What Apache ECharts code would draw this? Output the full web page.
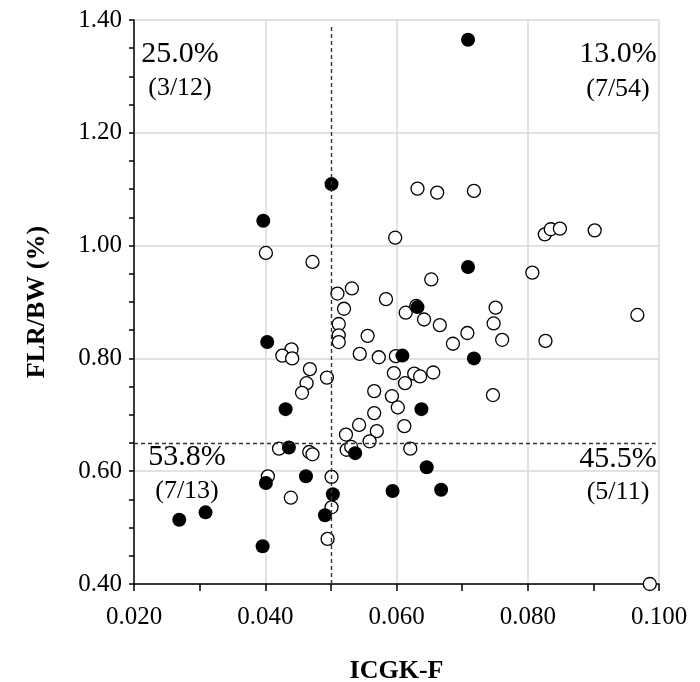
<!DOCTYPE html>
<html>
<head>
<meta charset="utf-8">
<script src="https://cdn.jsdelivr.net/npm/echarts@6/dist/echarts.min.js"></script>
<style>
  html, body { margin: 0; padding: 0; background: #fff; }
  #chart { width: 700px; height: 682px; }
</style>
</head>
<body>
<div id="chart"></div>
<script>
// ICGK-F vs FLR/BW scatter, open = no event, filled = event
var xTicks = [0.02, 0.04, 0.06, 0.08, 0.10];
var yTicks = [0.40, 0.60, 0.80, 1.00, 1.20, 1.40];
var xCut = 0.050;
var yCut = 0.65;

var openPoints = [
  // upper left
  [0.0401, 0.987], [0.0472, 0.971], [0.0440, 0.816], [0.0426, 0.805], [0.0441, 0.800],
  [0.0468, 0.781], [0.0494, 0.766], [0.0463, 0.756], [0.0456, 0.739],
  // upper right
  [0.0632, 1.101], [0.0662, 1.094], [0.0718, 1.097], [0.0598, 1.014], [0.0510, 0.915],
  [0.0532, 0.924], [0.0584, 0.905], [0.0520, 0.888], [0.0614, 0.881], [0.0512, 0.861],
  [0.0512, 0.841], [0.0512, 0.829], [0.0556, 0.840], [0.0544, 0.808], [0.0573, 0.802],
  [0.0599, 0.804], [0.0596, 0.774], [0.0566, 0.742], [0.0593, 0.733], [0.0613, 0.756],
  [0.0826, 1.020], [0.0835, 1.029], [0.0849, 1.030], [0.0902, 1.027], [0.0807, 0.952],
  [0.0653, 0.940], [0.0630, 0.893], [0.0642, 0.869], [0.0666, 0.859], [0.0751, 0.890],
  [0.0748, 0.862], [0.0708, 0.845], [0.0761, 0.833], [0.0686, 0.826], [0.0827, 0.831],
  [0.0967, 0.877], [0.0627, 0.773], [0.0636, 0.768], [0.0656, 0.775], [0.0747, 0.735],
  [0.0602, 0.713], [0.0566, 0.703], [0.0543, 0.682], [0.0570, 0.671], [0.0612, 0.680],
  [0.0523, 0.665], [0.0559, 0.653],
  // lower left
  [0.0421, 0.640], [0.0467, 0.634], [0.0472, 0.630], [0.0404, 0.591], [0.0439, 0.553],
  [0.0495, 0.480],
  // lower right
  [0.0524, 0.638], [0.0531, 0.643], [0.0621, 0.640], [0.0501, 0.590], [0.0501, 0.536],
  [0.0986, 0.400]
];

var filledPoints = [
  // upper left
  [0.0397, 1.044], [0.0403, 0.829], [0.0431, 0.710],
  // upper right
  [0.0501, 1.109], [0.0709, 1.365], [0.0709, 0.962], [0.0632, 0.891], [0.0609, 0.805],
  [0.0718, 0.800], [0.0638, 0.710],
  // lower left
  [0.0436, 0.642], [0.0462, 0.591], [0.0401, 0.579], [0.0491, 0.522], [0.0269, 0.514],
  [0.0309, 0.527], [0.0396, 0.467],
  // lower right
  [0.0537, 0.632], [0.0503, 0.559], [0.0594, 0.565], [0.0646, 0.607], [0.0668, 0.567]
];

var quadText = [
  { pct: '25.0%', frac: '(3/12)', x: 180, y1: 54, y2: 88 },
  { pct: '13.0%', frac: '(7/54)', x: 618, y1: 54, y2: 89 },
  { pct: '53.8%', frac: '(7/13)', x: 187, y1: 457, y2: 491 },
  { pct: '45.5%', frac: '(5/11)', x: 618, y1: 459, y2: 492 }
];

var FONT = '"Liberation Serif", "Times New Roman", serif';

var graphics = [];
quadText.forEach(function (q) {
  graphics.push({
    type: 'text', x: q.x, y: q.y1,
    style: { text: q.pct, font: '30px ' + FONT, fill: '#000', textAlign: 'center', textVerticalAlign: 'middle' }
  });
  graphics.push({
    type: 'text', x: q.x, y: q.y2,
    style: { text: q.frac, font: '26px ' + FONT, fill: '#000', textAlign: 'center', textVerticalAlign: 'middle' }
  });
});

var chart = echarts.init(document.getElementById('chart'));
chart.setOption({
  animation: false,
  backgroundColor: '#fff',
  textStyle: { fontFamily: FONT },
  grid: { left: 134, right: 41, top: 20, bottom: 98, containLabel: false, outerBoundsMode: 'none' },
  xAxis: {
    type: 'value',
    min: xTicks[0], max: xTicks[xTicks.length - 1], interval: 0.02,
    name: 'ICGK-F', nameLocation: 'middle', nameGap: 74,
    nameTextStyle: { fontFamily: FONT, fontSize: 26, fontWeight: 'bold', color: '#000' },
    axisLine: { show: true, onZero: false, lineStyle: { color: '#000', width: 1.5 } },
    axisTick: { show: true, length: 7, lineStyle: { color: '#000', width: 1.5 } },
    minorTick: { show: true, splitNumber: 2, length: 7, lineStyle: { color: '#000', width: 1.5 } },
    axisLabel: { fontFamily: FONT, fontSize: 25, color: '#000', margin: 21,
      formatter: function (v) { return v.toFixed(3); } },
    splitLine: { show: true, lineStyle: { color: '#d9d9d9', width: 1.5 } }
  },
  yAxis: {
    type: 'value',
    min: yTicks[0], max: yTicks[yTicks.length - 1], interval: 0.2,
    name: 'FLR/BW (%)', nameLocation: 'middle', nameGap: 84,
    nameTextStyle: { fontFamily: FONT, fontSize: 26, fontWeight: 'bold', color: '#000' },
    axisLine: { show: true, onZero: false, lineStyle: { color: '#000', width: 1.5 } },
    axisTick: { show: true, length: 5, lineStyle: { color: '#000', width: 1.5 } },
    minorTick: { show: true, splitNumber: 4, length: 5, lineStyle: { color: '#000', width: 1.5 } },
    axisLabel: { fontFamily: FONT, fontSize: 25, color: '#000', margin: 12,
      formatter: function (v) { return v.toFixed(2); } },
    splitLine: { show: true, lineStyle: { color: '#d9d9d9', width: 1.5 } }
  },
  graphic: graphics,
  series: [
    {
      name: 'open',
      type: 'scatter',
      data: openPoints,
      symbol: 'circle',
      symbolSize: 13,
      itemStyle: { color: '#fff', borderColor: '#000', borderWidth: 1.3, opacity: 1 },
      z: 3,
      markLine: {
        silent: true,
        symbol: 'none',
        label: { show: false },
        lineStyle: { color: '#333', type: [4, 3], width: 1.4 },
        data: [
          [{ coord: [xCut, yTicks[0]] }, { coord: [xCut, 1.392] }],
          [{ coord: [xTicks[0], yCut] }, { coord: [0.0995, yCut] }]
        ]
      }
    },
    {
      name: 'filled',
      type: 'scatter',
      data: filledPoints,
      symbol: 'circle',
      symbolSize: 14,
      itemStyle: { color: '#000', opacity: 1 },
      z: 4
    }
  ]
});
</script>
</body>
</html>
